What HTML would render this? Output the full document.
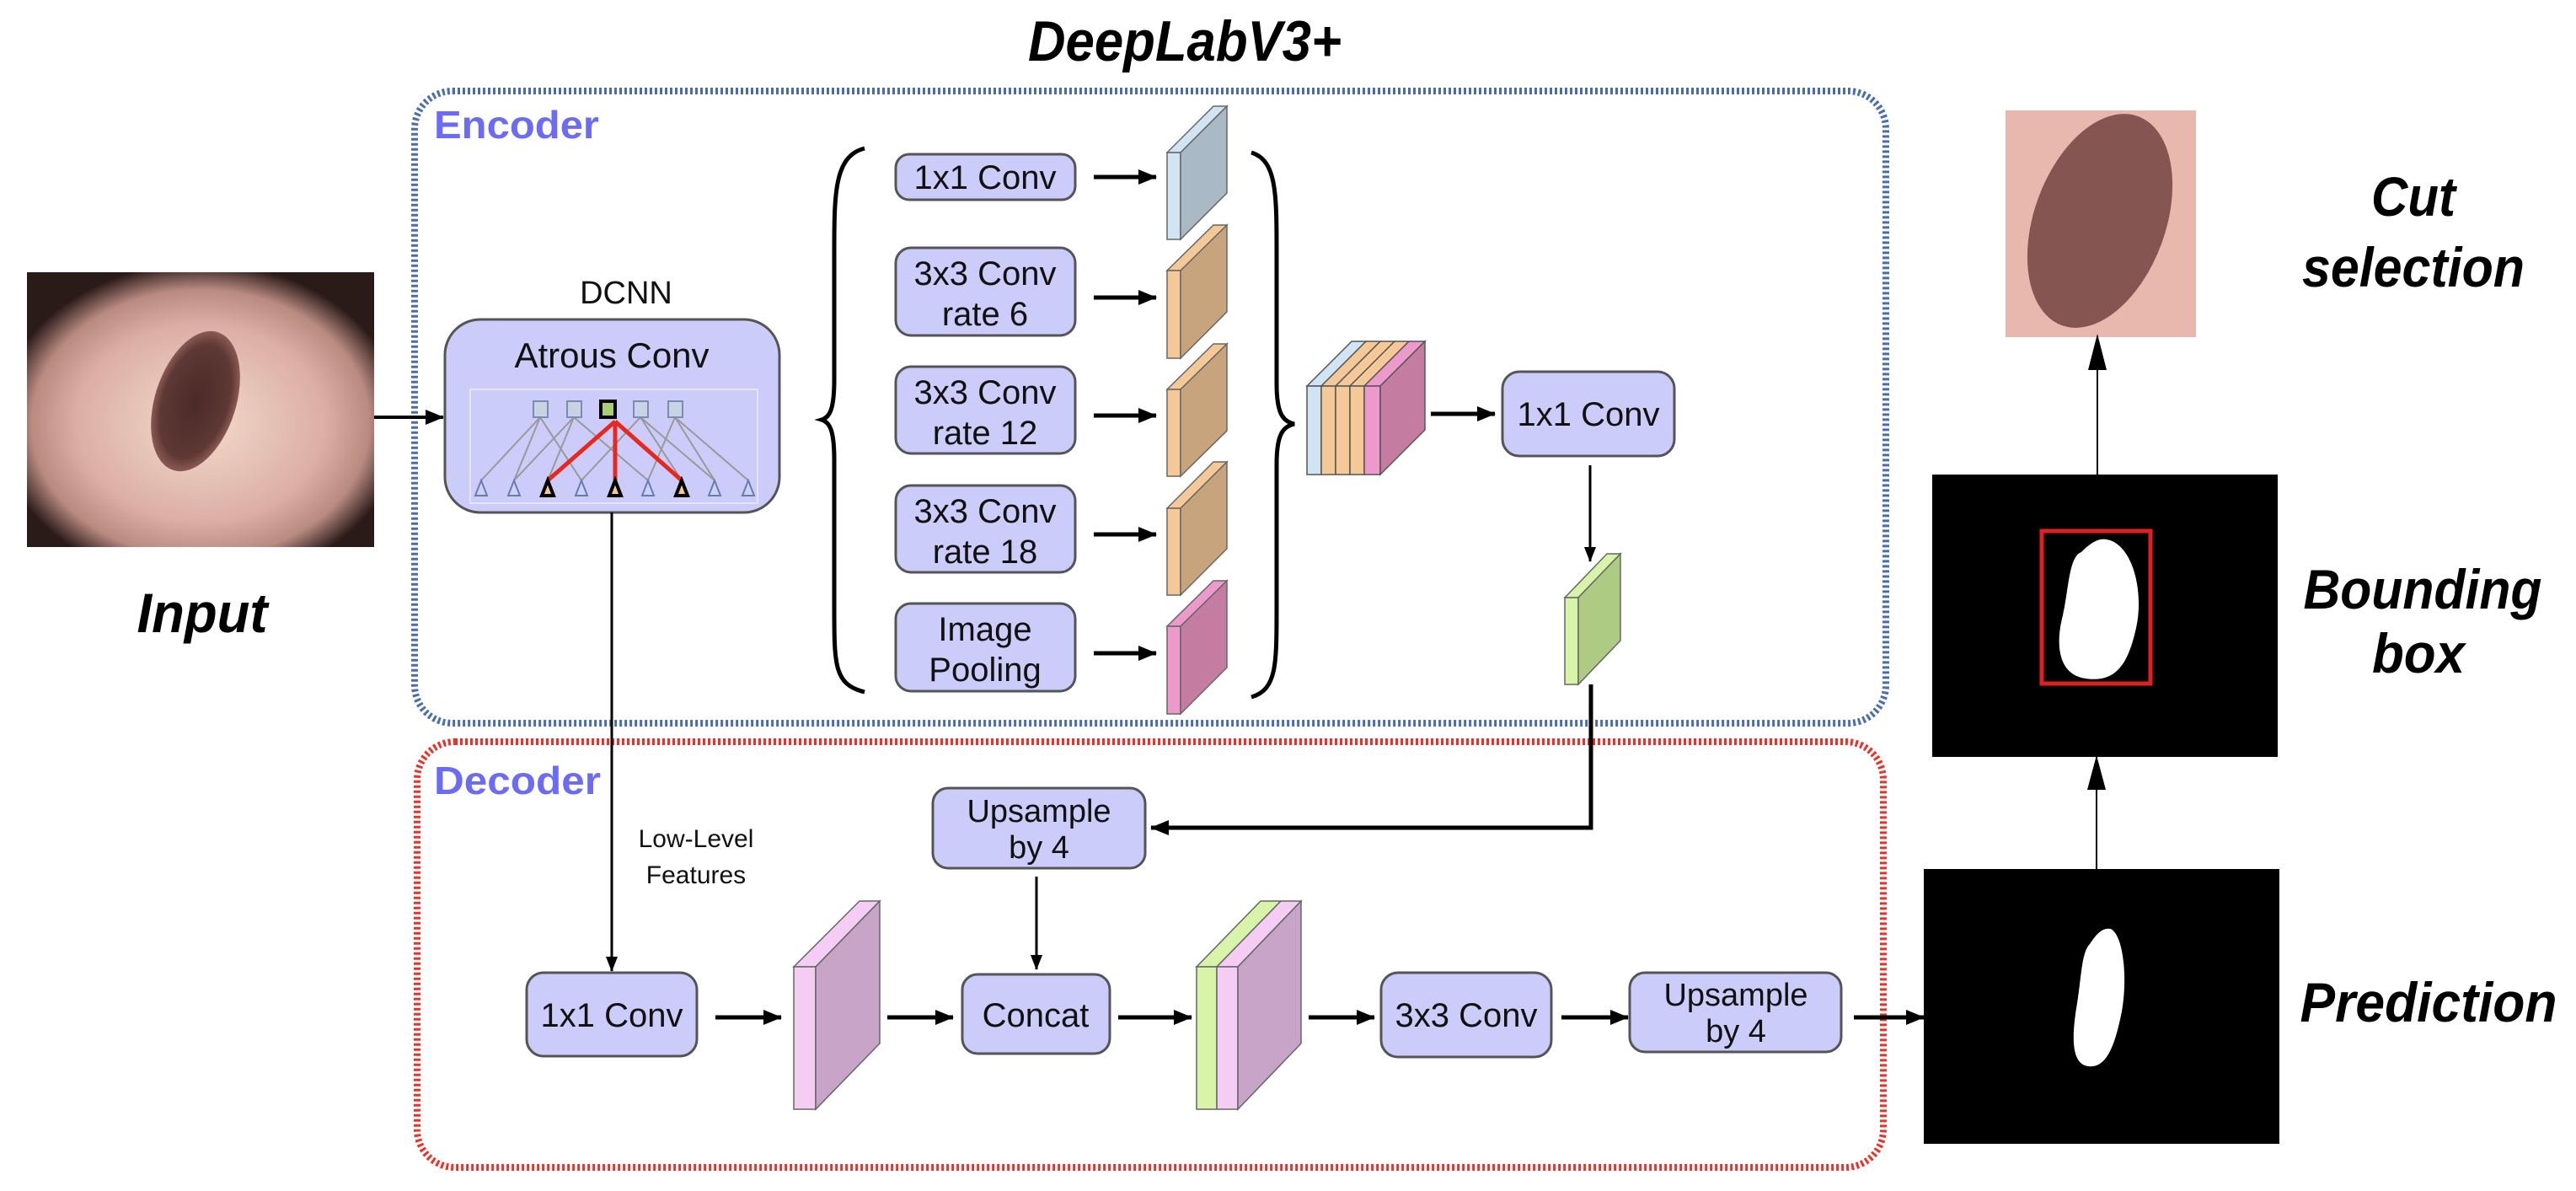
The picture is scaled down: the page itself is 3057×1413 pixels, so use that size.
<!DOCTYPE html>
<html><head><meta charset="utf-8"><style>
html,body{margin:0;padding:0;background:#fff}
svg{display:block}
.bx{fill:#ccccfa;stroke:#555;stroke-width:3}
.t{font-family:"Liberation Sans",sans-serif;fill:#111;text-anchor:middle}
.bi{font-family:"Liberation Sans",sans-serif;font-weight:bold;font-style:italic;fill:#000;text-anchor:middle}
</style></head><body>
<svg width="3057" height="1413" viewBox="0 0 3057 1413" xmlns="http://www.w3.org/2000/svg">
<defs>
<marker id="ah" markerWidth="22" markerHeight="18" refX="21" refY="9" orient="auto" markerUnits="userSpaceOnUse" viewBox="0 0 22 18"><path d="M0,0 L22,9 L0,18 z" fill="#000"/></marker>
<marker id="as" markerWidth="18" markerHeight="14" refX="17" refY="7" orient="auto" markerUnits="userSpaceOnUse" viewBox="0 0 18 14"><path d="M0,0 L18,7 L0,14 z" fill="#000"/></marker>
<radialGradient id="skin" cx="50%" cy="55%" r="65%"><stop offset="0" stop-color="#f2dccc"/><stop offset="0.55" stop-color="#dcaea6"/><stop offset="0.75" stop-color="#b88a80"/><stop offset="0.9" stop-color="#2a1a18"/></radialGradient>
<radialGradient id="mole" cx="50%" cy="50%" r="50%"><stop offset="0" stop-color="#4a2a28"/><stop offset="0.8" stop-color="#5e3834"/><stop offset="1" stop-color="#8a5a54"/></radialGradient>
</defs>

<text class="bi" x="1406" y="72" font-size="68" textLength="372" lengthAdjust="spacingAndGlyphs">DeepLabV3+</text>

<rect x="492" y="108" width="1746" height="750" rx="45" fill="none" stroke="#4a6db0" stroke-width="8" stroke-dasharray="3 3"/>
<rect x="495" y="880" width="1740" height="505" rx="45" fill="none" stroke="#e8322a" stroke-width="8" stroke-dasharray="3 3"/>
<text x="515" y="164" font-family="Liberation Sans,sans-serif" font-weight="bold" font-size="46" fill="#6b6bf5" textLength="196" lengthAdjust="spacingAndGlyphs">Encoder</text>
<text x="515" y="942" font-family="Liberation Sans,sans-serif" font-weight="bold" font-size="46" fill="#6b6bf5" textLength="198" lengthAdjust="spacingAndGlyphs">Decoder</text>

<rect x="32" y="323" width="412" height="326" fill="#2a1a18"/>
<rect x="32" y="323" width="412" height="326" fill="url(#skin)"/>
<ellipse cx="232" cy="476" rx="48" ry="86" transform="rotate(18 232 476)" fill="url(#mole)"/>
<text class="bi" x="240" y="750" font-size="66" textLength="155" lengthAdjust="spacingAndGlyphs">Input</text>
<line x1="444" y1="495" x2="526" y2="495" stroke="#000" stroke-width="4" marker-end="url(#ah)"/>

<text class="t" x="743" y="360" font-size="38">DCNN</text>
<rect class="bx" x="528" y="379" width="397" height="229" rx="42"/>
<text class="t" x="726" y="436" font-size="42">Atrous Conv</text>
<rect x="558" y="462" width="341" height="135" fill="none" stroke="#e4e4f4" stroke-width="2"/>
<g stroke="#999" stroke-width="2">
<line x1="641" y1="495" x2="571" y2="570"/><line x1="641" y1="495" x2="610" y2="570"/><line x1="641" y1="495" x2="690" y2="570"/>
<line x1="681" y1="495" x2="610" y2="570"/><line x1="681" y1="495" x2="650" y2="570"/><line x1="681" y1="495" x2="769" y2="570"/>
<line x1="760" y1="495" x2="690" y2="570"/><line x1="760" y1="495" x2="809" y2="570"/><line x1="760" y1="495" x2="848" y2="570"/>
<line x1="801" y1="495" x2="769" y2="570"/><line x1="801" y1="495" x2="848" y2="570"/><line x1="801" y1="495" x2="888" y2="570"/>
</g>
<g stroke="#e8281e" stroke-width="5"><line x1="730" y1="500" x2="650" y2="570"/><line x1="730" y1="500" x2="730" y2="570"/><line x1="730" y1="500" x2="809" y2="570"/></g>
<g fill="#c8d4e6" stroke="#7a8cb0" stroke-width="2">
<rect x="633" y="476" width="17" height="19"/><rect x="673" y="476" width="17" height="19"/><rect x="752" y="476" width="17" height="19"/><rect x="793" y="476" width="17" height="19"/>
</g>
<rect x="713" y="476" width="17" height="19" fill="#a8d070" stroke="#000" stroke-width="4"/>
<g fill="#c8d4f0" stroke="#6a7ab0" stroke-width="2">
<path d="M571,570 l-7,18 h14z"/><path d="M610,570 l-7,18 h14z"/><path d="M690,570 l-7,18 h14z"/><path d="M769,570 l-7,18 h14z"/><path d="M848,570 l-7,18 h14z"/><path d="M888,570 l-7,18 h14z"/>
</g>
<g fill="#f3c890" stroke="#000" stroke-width="4">
<path d="M650,570 l-7,18 h14z"/><path d="M730,570 l-7,18 h14z"/><path d="M809,570 l-7,18 h14z"/>
</g>
<line x1="726" y1="608" x2="726" y2="1152" stroke="#000" stroke-width="3" marker-end="url(#as)"/>

<path d="M1026,176 C990,185 990,230 990,300 L990,450 C990,485 985,495 975,498 C985,501 990,511 990,546 L990,720 C990,790 990,812 1026,821" fill="none" stroke="#000" stroke-width="5"/>
<path d="M1485,181 C1515,190 1515,230 1515,300 L1515,455 C1515,490 1522,500 1536,503 C1522,506 1515,516 1515,551 L1515,720 C1515,790 1515,818 1485,827" fill="none" stroke="#000" stroke-width="5"/>

<rect class="bx" x="1063" y="183" width="213" height="54" rx="16"/>
<text class="t" x="1169" y="224" font-size="40">1x1 Conv</text>
<rect class="bx" x="1063" y="294" width="213" height="104" rx="18"/>
<text class="t" x="1169" y="338" font-size="40">3x3 Conv</text><text class="t" x="1169" y="386" font-size="40">rate 6</text>
<rect class="bx" x="1063" y="435" width="213" height="103" rx="18"/>
<text class="t" x="1169" y="479" font-size="40">3x3 Conv</text><text class="t" x="1169" y="527" font-size="40">rate 12</text>
<rect class="bx" x="1063" y="576" width="213" height="103" rx="18"/>
<text class="t" x="1169" y="620" font-size="40">3x3 Conv</text><text class="t" x="1169" y="668" font-size="40">rate 18</text>
<rect class="bx" x="1063" y="716" width="213" height="104" rx="18"/>
<text class="t" x="1169" y="760" font-size="40">Image</text><text class="t" x="1169" y="808" font-size="40">Pooling</text>
<g stroke="#000" stroke-width="5">
<line x1="1298" y1="210" x2="1372" y2="210" marker-end="url(#ah)"/>
<line x1="1298" y1="353" x2="1372" y2="353" marker-end="url(#ah)"/>
<line x1="1298" y1="493" x2="1372" y2="493" marker-end="url(#ah)"/>
<line x1="1298" y1="634" x2="1372" y2="634" marker-end="url(#ah)"/>
<line x1="1298" y1="775" x2="1372" y2="775" marker-end="url(#ah)"/>
</g>
<g stroke="#666" stroke-width="1.5">
<path d="M1385,181 L1440,126 L1456,126 L1401,181z" fill="#d0e4f4"/><rect x="1385" y="181" width="16" height="103" fill="#d0e4f4"/><path d="M1401,181 L1456,126 L1456,229 L1401,284z" fill="#a9b9c6"/>
<path d="M1385,321 L1440,267 L1456,267 L1401,321z" fill="#f5c898"/><rect x="1385" y="321" width="16" height="104" fill="#f5c898"/><path d="M1401,321 L1456,267 L1456,370 L1401,425z" fill="#c8a47c"/>
<path d="M1385,462 L1440,408 L1456,408 L1401,462z" fill="#f5c898"/><rect x="1385" y="462" width="16" height="103" fill="#f5c898"/><path d="M1401,462 L1456,408 L1456,511 L1401,565z" fill="#c8a47c"/>
<path d="M1385,603 L1440,548 L1456,548 L1401,603z" fill="#f5c898"/><rect x="1385" y="603" width="16" height="103" fill="#f5c898"/><path d="M1401,603 L1456,548 L1456,651 L1401,706z" fill="#c8a47c"/>
<path d="M1385,743 L1440,689 L1456,689 L1401,743z" fill="#ee99cc"/><rect x="1385" y="743" width="16" height="104" fill="#ee99cc"/><path d="M1401,743 L1456,689 L1456,792 L1401,847z" fill="#c47ca0"/>
</g>
<g stroke="#555" stroke-width="1.5">
<path d="M1551,458 L1604,405 L1621,405 L1568,458z" fill="#d0e4f4"/>
<path d="M1568,458 L1621,405 L1638,405 L1585,458z" fill="#f5c898"/>
<path d="M1585,458 L1638,405 L1655,405 L1602,458z" fill="#f5c898"/>
<path d="M1602,458 L1655,405 L1672,405 L1619,458z" fill="#f5c898"/>
<path d="M1619,458 L1672,405 L1691,405 L1638,458z" fill="#ee99cc"/>
<rect x="1551" y="458" width="17" height="105" fill="#d0e4f4"/>
<rect x="1568" y="458" width="17" height="105" fill="#f5c898"/>
<rect x="1585" y="458" width="17" height="105" fill="#f5c898"/>
<rect x="1602" y="458" width="17" height="105" fill="#f5c898"/>
<rect x="1619" y="458" width="19" height="105" fill="#ee99cc"/>
<path d="M1638,458 L1691,405 L1691,510 L1638,563z" fill="#c47ca0"/>
</g>
<line x1="1698" y1="491" x2="1774" y2="491" stroke="#000" stroke-width="5" marker-end="url(#ah)"/>
<rect class="bx" x="1783" y="441" width="204" height="100" rx="20"/>
<text class="t" x="1885" y="505" font-size="40">1x1 Conv</text>
<line x1="1887" y1="552" x2="1887" y2="666" stroke="#000" stroke-width="3" marker-end="url(#as)"/>
<g stroke="#666" stroke-width="1.5">
<path d="M1857,709 L1907,657 L1923,657 L1873,709z" fill="#d8f4a8"/>
<rect x="1857" y="709" width="16" height="103" fill="#d8f4a8"/>
<path d="M1873,709 L1923,657 L1923,760 L1873,812z" fill="#aecb84"/>
</g>
<polyline points="1888,812 1888,982 1366,982" fill="none" stroke="#000" stroke-width="5" marker-end="url(#ah)"/>

<rect class="bx" x="1107" y="935" width="252" height="95" rx="18"/>
<text class="t" x="1233" y="975" font-size="38">Upsample</text><text class="t" x="1233" y="1018" font-size="38">by 4</text>
<text class="t" x="826" y="1005" font-size="30">Low-Level</text><text class="t" x="826" y="1048" font-size="30">Features</text>
<line x1="1230" y1="1040" x2="1230" y2="1150" stroke="#000" stroke-width="3" marker-end="url(#as)"/>

<rect class="bx" x="625" y="1154" width="202" height="99" rx="20"/>
<text class="t" x="726" y="1218" font-size="40">1x1 Conv</text>
<rect class="bx" x="1142" y="1156" width="175" height="94" rx="18"/>
<text class="t" x="1229" y="1218" font-size="40">Concat</text>
<rect class="bx" x="1639" y="1154" width="202" height="100" rx="20"/>
<text class="t" x="1740" y="1218" font-size="40">3x3 Conv</text>
<rect class="bx" x="1934" y="1154" width="251" height="94" rx="18"/>
<text class="t" x="2060" y="1193" font-size="38">Upsample</text><text class="t" x="2060" y="1236" font-size="38">by 4</text>
<g stroke="#000" stroke-width="5">
<line x1="849" y1="1207" x2="927" y2="1207" marker-end="url(#ah)"/>
<line x1="1053" y1="1207" x2="1131" y2="1207" marker-end="url(#ah)"/>
<line x1="1327" y1="1207" x2="1414" y2="1207" marker-end="url(#ah)"/>
<line x1="1553" y1="1207" x2="1631" y2="1207" marker-end="url(#ah)"/>
<line x1="1853" y1="1207" x2="1932" y2="1207" marker-end="url(#ah)"/>
<line x1="2200" y1="1207" x2="2283" y2="1207" marker-end="url(#ah)"/>
</g>
<g stroke="#666" stroke-width="1.5">
<path d="M942,1147 L1020,1069 L1044,1069 L968,1147z" fill="#f4ccf4"/>
<rect x="942" y="1147" width="26" height="169" fill="#f4ccf4"/>
<path d="M968,1147 L1044,1069 L1044,1238 L968,1316z" fill="#c8a4c8"/>
<path d="M1420,1147 L1496,1069 L1520,1069 L1444,1147z" fill="#d8f4a8"/>
<path d="M1444,1147 L1520,1069 L1544,1069 L1469,1147z" fill="#f4ccf4"/>
<rect x="1420" y="1147" width="24" height="169" fill="#d8f4a8"/>
<rect x="1444" y="1147" width="25" height="169" fill="#f4ccf4"/>
<path d="M1469,1147 L1544,1069 L1544,1238 L1469,1316z" fill="#c8a4c8"/>
</g>

<rect x="2380" y="131" width="226" height="269" fill="#e8b8ae"/>
<ellipse cx="2492" cy="262" rx="78" ry="132" transform="rotate(20 2492 262)" fill="#7a4a48" opacity="0.9"/>
<text class="bi" x="2864" y="256" font-size="66" textLength="100" lengthAdjust="spacingAndGlyphs">Cut</text>
<text class="bi" x="2864" y="340" font-size="66" textLength="264" lengthAdjust="spacingAndGlyphs">selection</text>
<line x1="2489" y1="563" x2="2489" y2="400" stroke="#000" stroke-width="2"/>
<path d="M2478,439 L2489,396 L2500,439z" fill="#000"/>
<rect x="2293" y="563" width="410" height="335" fill="#000"/>
<path d="M2500,640 C2530,645 2545,700 2535,745 C2525,790 2510,810 2475,805 C2440,800 2440,760 2448,730 C2455,700 2455,660 2470,655 C2480,645 2490,638 2500,640z" fill="#fff"/>
<rect x="2423" y="630" width="129" height="181" fill="none" stroke="#e02020" stroke-width="5"/>
<text class="bi" x="2875" y="722" font-size="66" textLength="283" lengthAdjust="spacingAndGlyphs">Bounding</text>
<text class="bi" x="2870" y="798" font-size="66" textLength="110" lengthAdjust="spacingAndGlyphs">box</text>
<line x1="2488" y1="1031" x2="2488" y2="898" stroke="#000" stroke-width="2"/>
<path d="M2477,937 L2488,896 L2499,937z" fill="#000"/>
<rect x="2283" y="1031" width="422" height="326" fill="#000"/>
<path d="M2505,1102 C2520,1110 2525,1160 2518,1200 C2510,1240 2500,1268 2478,1265 C2455,1262 2460,1220 2465,1190 C2470,1160 2470,1130 2480,1120 C2488,1108 2495,1100 2505,1102z" fill="#fff"/>
<text class="bi" x="2882" y="1212" font-size="66" textLength="305" lengthAdjust="spacingAndGlyphs">Prediction</text>
</svg>
</body></html>
